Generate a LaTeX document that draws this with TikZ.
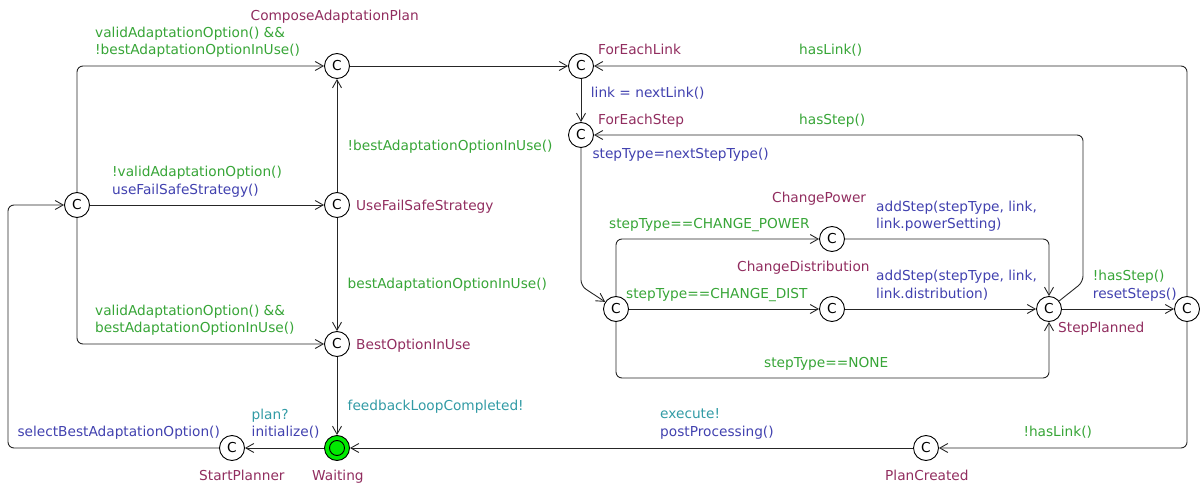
\documentclass[tikz,border=0pt]{standalone}
\usepackage{fontspec}
\setmainfont{DejaVu Sans}
\usetikzlibrary{arrows.meta}
\definecolor{locname}{RGB}{145,45,95}
\definecolor{guard}{RGB}{55,165,55}
\definecolor{update}{RGB}{65,65,175}
\definecolor{sync}{RGB}{50,155,165}
\definecolor{initfill}{RGB}{0,235,0}
\begin{document}
\begin{tikzpicture}[x=1pt,y=-1pt,
  every node/.style={font=\fontsize{13.7}{17.3}\selectfont},
  loc/.style={circle,draw,line width=0.9pt,minimum size=25pt,inner sep=0pt,fill=white},
  lbl/.style={anchor=base west,inner sep=0pt,align=left},
  edge/.style={draw=black!85,line width=0.9pt,rounded corners=6pt,
    -{Straight Barb[length=8pt,width=9pt]}}]
\useasboundingbox (0,0) rectangle (1200,484);

% locations
\node[loc] (ch)   at (77,205)   {C};
\node[loc] (cap)  at (337,66)   {C};
\node[loc] (ufs)  at (337,205)  {C};
\node[loc] (boi)  at (337,344)  {C};
\node[loc,fill=initfill] (wait) at (337,448) {};
\draw[line width=0.9pt] (wait.center) circle (7.5pt);
\node[loc] (stp)  at (232,448)  {C};
\node[loc] (fel)  at (581,66)   {C};
\node[loc] (fes)  at (581,135)  {C};
\node[loc] (br)   at (616,309)  {C};
\node[loc] (cpw)  at (832,239)  {C};
\node[loc] (cds)  at (832,309)  {C};
\node[loc] (spl)  at (1049,309) {C};
\node[loc] (rc)   at (1187,309) {C};
\node[loc] (pc)   at (926,448)  {C};

% transitions
\draw[edge] (ch) |- (cap);
\draw[edge] (ch) -- (ufs);
\draw[edge] (ch) |- (boi);
\draw[edge] (stp) -- (8,448) |- (ch);
\draw[edge] (wait) -- (stp);
\draw[edge] (ufs) -- (cap);
\draw[edge] (ufs) -- (boi);
\draw[edge] (boi) -- (wait);
\draw[edge] (cap) -- (fel);
\draw[edge] (fel) -- (fes);
\draw[edge] (fes) -- (581,286) -- (br);
\draw[edge] (br) |- (cpw);
\draw[edge] (br) -- (cds);
\draw[edge] (br) -- (616,378) -| (spl);
\draw[edge] (cpw) -| (spl);
\draw[edge] (cds) -- (spl);
\draw[edge] (spl) -- (1083,282) -- (1083,135) -- (fes);
\draw[edge] (spl) -- (rc);
\draw[edge] (rc) |- (fel);
\draw[edge] (rc) |- (pc);
\draw[edge] (pc) -- (wait);

% location names
\node[lbl,text=locname] (nCap) at (250.5,20.5) {ComposeAdaptationPlan};
\node[lbl,text=locname] (nUfs) at (356,211) {UseFailSafeStrategy};
\node[lbl,text=locname] (nBoi) at (356,349) {BestOptionInUse};
\node[lbl,text=locname] (nStp) at (199,480) {StartPlanner};
\node[lbl,text=locname] (nWait) at (312,480) {Waiting};
\node[lbl,text=locname] (nFel) at (598,55) {ForEachLink};
\node[lbl,text=locname] (nFes) at (598,124.3) {ForEachStep};
\node[lbl,text=locname] (nCpw) at (772,202.3) {ChangePower};
\node[lbl,text=locname] (nCds) at (737,271.7) {ChangeDistribution};
\node[lbl,text=locname] (nSpl) at (1058,332.7) {StepPlanned};
\node[lbl,text=locname] (nPc) at (885,480) {PlanCreated};

% guards, synchronisations and updates (multi-line labels sit on their last baseline)
\node[lbl,text=guard] (gCap) at (95,55) {validAdaptationOption() \&\&\\!bestAdaptationOptionInUse()};
\node[lbl] (gUfs) at (112,194) {{\color{guard}!validAdaptationOption()}\\{\color{update}useFailSafeStrategy()}};
\node[lbl,text=guard] (gBoi) at (95,332.3) {validAdaptationOption() \&\&\\bestAdaptationOptionInUse()};
\node[lbl,text=guard] (gUfsCap) at (347.5,150.7) {!bestAdaptationOptionInUse()};
\node[lbl,text=guard] (gUfsBoi) at (347.5,288.3) {bestAdaptationOptionInUse()};
\node[lbl,text=sync] (sBoi) at (347.5,410) {feedbackLoopCompleted!};
\node[lbl] (sWait) at (251.5,436.7) {{\color{sync}plan?}\\{\color{update}initialize()}};
\node[lbl,text=update] (uStp) at (17.3,436.7) {selectBestAdaptationOption()};
\node[lbl] (sPc) at (660,436) {{\color{sync}execute!}\\{\color{update}postProcessing()}};
\node[lbl,text=guard] (gRcPc) at (1023.3,436.7) {!hasLink()};
\node[lbl,text=guard] (gRcFel) at (799,55) {hasLink()};
\node[lbl,text=guard] (gSplFes) at (799,124.3) {hasStep()};
\node[lbl,text=update] (uFel) at (590.7,97.7) {link = nextLink()};
\node[lbl,text=update] (uFes) at (592.3,158.3) {stepType=nextStepType()};
\node[lbl,text=guard] (gCpw) at (609,228.3) {stepType==CHANGE\_POWER};
\node[lbl,text=guard] (gCds) at (626,298.3) {stepType==CHANGE\_DIST};
\node[lbl,text=guard] (gNone) at (764,367.3) {stepType==NONE};
\node[lbl,text=update] (uCpw) at (876,229) {addStep(stepType, link,\\link.powerSetting)};
\node[lbl,text=update] (uCds) at (876,298) {addStep(stepType, link,\\link.distribution)};
\node[lbl] (gSplRc) at (1092.7,298) {{\color{guard}!hasStep()}\\{\color{update}resetSteps()}};
\end{tikzpicture}
\end{document}
